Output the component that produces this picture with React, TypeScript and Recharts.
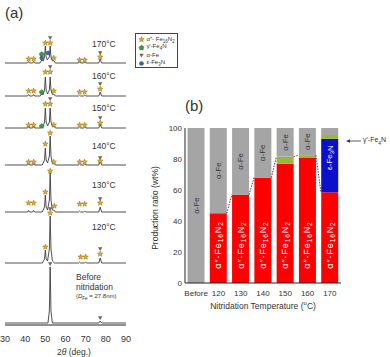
import React from "react";
import { Bar, BarChart, ComposedChart, Line, Scatter, XAxis, YAxis } from "recharts";

const FONT = '"Liberation Sans", Arial, sans-serif';

// ---- (a) XRD patterns: [2θ, intensity above the trace's own baseline] ----
const sampleLabels = ["170°C", "160°C", "150°C", "140°C", "130°C", "120°C"];
const baselineOffsets = [262, 229, 197, 160, 113, 62, 2];
const twoThetaTicks = [30, 40, 50, 60, 70, 80, 90];

const pattern170 = [[30,0],[41.2,0],[41.7,1.5],[42.2,0],[43.7,0],[44.2,1.5],[44.7,0],[47.4,0],[48.2,3],[49.0,2],[49.6,6],[50.0,17],[50.4,6],[51.0,3],[51.6,5],[52.0,6],[52.4,17],[52.8,6],[53.5,2],[54.2,2.5],[55.0,0],[66.5,0],[67.0,1.2],[67.5,0],[69.0,0],[69.5,1.2],[70.0,0],[76.5,0],[77.2,4],[77.9,0],[90,0]];
const pattern160 = [[30,0],[41.2,0],[41.7,1.5],[42.2,0],[43.7,0],[44.2,1.5],[44.7,0],[47.5,0],[48.2,2],[48.9,1.5],[49.6,6],[50.0,19],[50.4,6],[51.1,2],[52.0,6],[52.4,19],[52.8,6],[53.5,1.5],[54.2,2],[55.0,0],[66.5,0],[67.0,1],[67.5,0],[69.0,0],[69.5,1],[70.0,0],[76.5,0],[77.2,4],[77.9,0],[90,0]];
const pattern150 = [[30,0],[41.2,0],[41.7,1.5],[42.2,0],[43.7,0],[44.2,1.5],[44.7,0],[47.5,0],[48.2,1.5],[48.9,1.5],[49.6,6],[50.0,20],[50.4,6],[51.1,2],[52.0,6],[52.4,20],[52.8,6],[53.5,1.5],[54.2,2],[55.0,0],[66.5,0],[67.0,1],[67.5,0],[69.0,0],[69.5,1],[70.0,0],[76.5,0],[77.2,4],[77.9,0],[90,0]];
const pattern140 = [[30,0],[41.2,0],[41.7,1.2],[42.2,0],[43.7,0],[44.2,1.2],[44.7,0],[48.5,0],[49.6,5],[50.0,17],[50.4,5],[51.1,2],[52.0,9],[52.4,29],[52.8,9],[53.5,1.5],[54.2,2],[55.0,0],[66.5,0],[67.0,1],[67.5,0],[69.0,0],[69.5,1],[70.0,0],[76.5,0],[77.2,4],[77.9,0],[90,0]];
const pattern130 = [[30,0],[41.2,0],[41.7,1.5],[42.2,0],[43.7,0],[44.2,1.5],[44.7,0],[48.5,0],[49.6,5],[50.0,17],[50.4,5],[51.1,2],[52.0,12],[52.4,39],[52.8,12],[53.5,2],[54.2,2],[55.0,0],[66.5,0],[67.0,1],[67.5,0],[69.0,0],[69.5,1],[70.0,0],[76.5,0],[77.2,5],[77.9,0],[90,0]];
const pattern120 = [[30,0],[48.5,0],[49.6,4],[50.0,13],[50.4,4],[51.1,2],[52.0,14],[52.4,47],[52.8,14],[53.5,2],[54.5,0],[66.5,0],[67.0,1],[67.5,0],[69.5,0],[70.0,1],[70.5,0],[76.5,0],[77.2,5],[77.9,0],[90,0]];
const patternBefore = [[30,0],[51.3,0],[52.0,12],[52.4,56],[52.8,12],[53.5,0],[76.5,0],[77.2,2],[77.9,0],[90,0]];
const patterns = [pattern170, pattern160, pattern150, pattern140, pattern130, pattern120, patternBefore];

// peak markers, [2θ, height above baseline], one list per trace
const starMarks = [
  [[41.7,4],[44.2,4],[50.0,20],[52.4,20],[54.2,5],[67.0,3],[69.5,3],[77.2,6]],
  [[41.7,5],[44.2,5],[50.0,24],[52.4,24],[54.2,5],[67.0,4],[69.5,4],[77.2,7]],
  [[41.7,3],[44.2,3],[50.0,24],[52.4,24],[54.2,3],[67.0,3],[69.5,3],[77.2,5]],
  [[41.7,3],[44.2,3],[50.0,21],[52.4,32],[54.2,3],[67.0,3],[69.5,3],[77.2,4]],
  [[41.7,9],[44.2,9],[50.0,20],[52.4,41],[54.5,6],[67.0,8],[69.5,8],[77.2,9]],
  [[50.0,16],[52.4,50],[67.5,6],[70.0,6],[77.2,9]],
  [],
];
const alphaFeMarks = [
  [[52.4,25],[77.2,10]],
  [[52.4,29],[77.2,12]],
  [[52.4,29],[77.2,10]],
  [[77.2,7]],
  [[77.2,13]],
  [[52.4,54],[77.2,14]],
  [[52.4,59],[77.2,5]],
];
const gammaMarks = [[[48.2,9]], [[48.2,4]], [[48.2,2]], [], [], [], []];
const epsilonMarks = [[[48.2,5],[51.4,10]], [], [], [], [], [], []];

// ---- (b) production ratio (wt%) ----
const categories = ["Before", "120", "130", "140", "150", "160", "170"];
const alphaDoublePrime = [0, 45, 57, 68, 77, 81, 58.5];
const epsilonFe3N = [0, 0, 0, 0, 0, 0, 34.5];
const gammaFe4N = [0, 0, 0, 0, 4.5, 1.5, 2.5];
const alphaFe = [100, 55, 43, 32, 18.5, 17.5, 4.5];
const nitrideLevel = [0, 45, 57, 68, 81.5, 82.5, 58.5];
const ratioTicks = [0, 20, 40, 60, 80, 100];

const BAR_GAP = 2.5;

const toPoints = (list: number[][], i: number) =>
  list.map(([x, h]) => ({ x, y: baselineOffsets[i] + h }));

const patternSeries = patterns.map((p, i) => toPoints(p, i));
const starData = starMarks.flatMap((m, i) => toPoints(m, i));
const alphaFeData = alphaFeMarks.flatMap((m, i) => toPoints(m, i));
const gammaData = gammaMarks.flatMap((m, i) => toPoints(m, i));
const epsilonData = epsilonMarks.flatMap((m, i) => toPoints(m, i));

const ratioRows = categories.map((name, i) => ({
  name,
  a2: alphaDoublePrime[i],
  eps: epsilonFe3N[i],
  gam: gammaFe4N[i],
  fe: alphaFe[i],
}));

const StarMark = ({ cx, cy }: any) => {
  const pts: string[] = [];
  for (let k = 0; k < 10; k++) {
    const r = k % 2 === 0 ? 2.9 : 1.3;
    const a = -Math.PI / 2 + (k * Math.PI) / 5;
    pts.push(`${cx + r * Math.cos(a)},${cy + r * Math.sin(a)}`);
  }
  return <polygon points={pts.join(" ")} fill="#e3a92a" stroke="#7b5a12" strokeWidth={0.4} />;
};

const TriangleMark = ({ cx, cy }: any) => (
  <polygon points={`${cx - 2.2},${cy - 1.8} ${cx + 2.2},${cy - 1.8} ${cx},${cy + 2}`} fill="#666" />
);

const GreenMark = ({ cx, cy }: any) => (
  <polygon points={`${cx},${cy - 2.6} ${cx + 2.5},${cy - 0.6} ${cx + 1.6},${cy + 2.2} ${cx - 1.6},${cy + 2.2} ${cx - 2.5},${cy - 0.6}`} fill="#3f9a3a" stroke="#1f5f1c" strokeWidth={0.3} />
);

const BlueMark = ({ cx, cy }: any) => <circle cx={cx} cy={cy} r={2.1} fill="#3a64a8" stroke="#1d3764" strokeWidth={0.3} />;

const VText = ({ cx, cy, fill, size = 8, spacing = 0, children }: any) => (
  <text
    x={cx}
    y={cy}
    transform={`rotate(-90 ${cx} ${cy})`}
    textAnchor="middle"
    dominantBaseline="central"
    fontSize={size}
    letterSpacing={spacing}
    fill={fill}
    fontFamily={FONT}
  >
    {children}
  </text>
);

const rowIndex = (props: any) =>
  typeof props.index === "number" ? props.index : categories.indexOf(props.payload?.name);

const RedSegment = (props: any) => {
  const { x, y, width, height, fill } = props;
  const i = rowIndex(props);
  const v = alphaDoublePrime[i];
  if (!v || height <= 0) return null;
  const ppu = height / v;
  const cx = x + width / 2;
  const cy = y + height - 24.5 * ppu;
  return (
    <g>
      <rect x={x} y={y} width={width} height={height} fill={fill} />
      <VText cx={cx} cy={cy} fill="#fff" size={9} spacing={0.9}>
        α″-Fe<tspan dy={2} fontSize={6.5}>16</tspan>
        <tspan dy={-2}>N</tspan>
        <tspan dy={2} fontSize={6.5}>2</tspan>
      </VText>
    </g>
  );
};

const BlueSegment = (props: any) => {
  const { x, y, width, height, fill } = props;
  const i = rowIndex(props);
  if (!epsilonFe3N[i] || height <= 0) return null;
  const cx = x + width / 2;
  const cy = y + height / 2 - 8;
  return (
    <g>
      <rect x={x} y={y} width={width} height={height} fill={fill} />
      <VText cx={cx} cy={cy} fill="#fff" size={8}>
        ε-Fe<tspan dy={2} fontSize={6}>3</tspan>
        <tspan dy={-2}>N</tspan>
      </VText>
    </g>
  );
};

const GreenSegment = (props: any) => {
  const { x, y, width, height, fill } = props;
  if (height <= 0) return null;
  return <rect x={x} y={y} width={width} height={height} fill={fill} />;
};

// grey top segment: also draws the dashed link to the next bar
const GreySegment = (props: any) => {
  const { x, y, width, height, fill } = props;
  const i = rowIndex(props);
  const v = alphaFe[i];
  if (!v || height <= 0) return null;
  const ppu = height / v;
  const base = y + 100 * ppu;
  const showLabel = i < categories.length - 1;
  const hasLink = i >= 1 && i < categories.length - 1;
  return (
    <g>
      <rect x={x} y={y} width={width} height={height} fill={fill} />
      {showLabel && (
        <VText cx={x + width / 2} cy={y + height / 2} fill="#333" size={8}>
          α-Fe
        </VText>
      )}
      {hasLink && (
        <line
          x1={x + width}
          y1={base - nitrideLevel[i] * ppu}
          x2={x + width + 2 * BAR_GAP}
          y2={base - nitrideLevel[i + 1] * ppu}
          stroke="#444"
          strokeWidth={1}
          strokeDasharray="1.5 1.2"
        />
      )}
    </g>
  );
};

const abs = (left: number, cy: number, size: number, extra: React.CSSProperties = {}): React.CSSProperties => ({
  position: "absolute",
  left,
  top: cy,
  transform: "translateY(-50%)",
  fontSize: size,
  lineHeight: 1,
  whiteSpace: "nowrap",
  ...extra,
});

const sampleLabelY = [44, 76, 108, 146, 185, 227];

const legendRows = [
  { mark: "star", label: <>α″- Fe<sub style={{ fontSize: 4.5 }}>16</sub>N<sub style={{ fontSize: 4.5 }}>2</sub></> },
  { mark: "green", label: <>γ′-Fe<sub style={{ fontSize: 4.5 }}>4</sub>N</> },
  { mark: "tri", label: <>α-Fe</> },
  { mark: "blue", label: <>ε-Fe<sub style={{ fontSize: 4.5 }}>3</sub>N</> },
];

const LegendSymbol = ({ mark }: { mark: string }) => (
  <svg width={7} height={7} style={{ display: "block" }}>
    {mark === "star" && <StarMark cx={3.5} cy={3.5} />}
    {mark === "green" && <GreenMark cx={3.5} cy={3.7} />}
    {mark === "tri" && <TriangleMark cx={3.5} cy={3.5} />}
    {mark === "blue" && <BlueMark cx={3.5} cy={3.5} />}
  </svg>
);

export default function App() {
  const frame = { stroke: "#222", strokeWidth: 1 };
  return (
    <div style={{ position: "absolute", left: 0, top: 0, width: 390, height: 357, background: "#fff", fontFamily: FONT, color: "#333", overflow: "hidden" }}>
      {/* (a) XRD */}
      <div style={{ position: "absolute", left: 0, top: 0 }}>
        <ComposedChart width={135} height={357} margin={{ top: 32, right: 9, bottom: 0, left: 5 }}>
          <XAxis
            dataKey="x"
            type="number"
            domain={[30, 90]}
            ticks={twoThetaTicks}
            height={32}
            tickLine={false}
            tickSize={6}
            tickMargin={5}
            tick={{ fontSize: 9, fill: "#333", fontFamily: FONT }}
            axisLine={frame}
            allowDataOverflow
          />
          <XAxis
            xAxisId="top"
            orientation="top"
            dataKey="x"
            type="number"
            domain={[30, 90]}
            ticks={[40, 50, 60, 70, 80]}
            height={0}
            mirror
            tick={false}
            tickSize={2}
            tickLine={frame}
            axisLine={frame}
          />
          <YAxis dataKey="y" type="number" domain={[0, 293]} width={0} tick={false} tickLine={false} axisLine={frame} allowDataOverflow />
          <YAxis yAxisId="right" orientation="right" type="number" domain={[0, 293]} width={0} tick={false} tickLine={false} axisLine={frame} />
          {patternSeries.map((d, i) => (
            <Line
              key={i}
              data={d}
              dataKey="y"
              type="linear"
              stroke="#3c3c3c"
              strokeWidth={0.9}
              dot={false}
              activeDot={false}
              isAnimationActive={false}
            />
          ))}
          <Scatter data={alphaFeData} shape={TriangleMark} isAnimationActive={false} />
          <Scatter data={epsilonData} shape={BlueMark} isAnimationActive={false} />
          <Scatter data={gammaData} shape={GreenMark} isAnimationActive={false} />
          <Scatter data={starData} shape={StarMark} isAnimationActive={false} />
        </ComposedChart>
      </div>

      {/* (b) production ratio */}
      <div style={{ position: "absolute", left: 140, top: 90 }}>
        <BarChart width={250} height={230} data={ratioRows} margin={{ top: 38, right: 49, bottom: 0, left: 15 }} barCategoryGap={BAR_GAP}>
          <XAxis
            dataKey="name"
            height={37}
            interval={0}
            tickLine={false}
            tickSize={4}
            tickMargin={3}
            tick={{ fontSize: 8, fill: "#333", fontFamily: FONT }}
            axisLine={frame}
          />
          <XAxis xAxisId="top" dataKey="name" orientation="top" height={0} tick={false} tickLine={false} axisLine={frame} />
          <YAxis
            type="number"
            domain={[0, 100]}
            ticks={ratioTicks}
            width={30}
            tickLine={false}
            tickSize={0}
            tickMargin={3}
            tick={{ fontSize: 8, fill: "#333", fontFamily: FONT }}
            axisLine={frame}
          />
          <YAxis
            yAxisId="right"
            orientation="right"
            type="number"
            domain={[0, 100]}
            ticks={ratioTicks}
            width={0}
            mirror
            tick={false}
            tickSize={3}
            tickLine={frame}
            axisLine={frame}
          />
          <Bar dataKey="a2" stackId="s" fill="#fe0000" shape={RedSegment} isAnimationActive={false} />
          <Bar dataKey="eps" stackId="s" fill="#0a10cc" shape={BlueSegment} isAnimationActive={false} />
          <Bar dataKey="gam" stackId="s" fill="#97b935" shape={GreenSegment} isAnimationActive={false} />
          <Bar dataKey="fe" stackId="s" fill="#a5a5a5" shape={GreySegment} isAnimationActive={false} />
        </BarChart>
      </div>

      {/* panel (a) annotations */}
      <div style={abs(5, 12, 15)}>(a)</div>
      {sampleLabels.map((t, i) => (
        <div key={t} style={abs(92, sampleLabelY[i], 8.5)}>
          {t}
        </div>
      ))}
      <div style={abs(76, 277, 8.5)}>Before</div>
      <div style={abs(76, 287, 8.5)}>nitridation</div>
      <div style={abs(76, 297, 6)}>
        (<i>D</i>
        <sub style={{ fontSize: 4.5 }}>Fe</sub> = 27.8nm)
      </div>
      <div style={{ position: "absolute", left: 135, top: 33, width: 43, height: 35, border: "1px solid #444", background: "#fff", boxSizing: "border-box", padding: "2px 0 0 2px" }}>
        {legendRows.map((r, i) => (
          <div key={i} style={{ display: "flex", alignItems: "center", height: 7.8, fontSize: 6, lineHeight: 1, whiteSpace: "nowrap" }}>
            <LegendSymbol mark={r.mark} />
            <span style={{ marginLeft: 1.5 }}>{r.label}</span>
          </div>
        ))}
      </div>
      <div style={abs(57, 352, 8.5)}>
        2<i>θ</i> (deg.)
      </div>

      {/* panel (b) annotations */}
      <div style={abs(185, 105, 15)}>(b)</div>
      <div style={{ position: "absolute", left: 155, top: 208, transform: "translate(-50%, -50%) rotate(-90deg)", fontSize: 8.5, whiteSpace: "nowrap", lineHeight: 1 }}>
        Production ratio (wt%)
      </div>
      <div style={{ position: "absolute", left: 263, top: 305, transform: "translate(-50%, -50%)", fontSize: 8.5, whiteSpace: "nowrap", lineHeight: 1 }}>
        Nitridation Temperature (<sup style={{ fontSize: 6 }}>o</sup>C)
      </div>
      <svg style={{ position: "absolute", left: 346, top: 136 }} width={16} height={10}>
        <line x1={3} y1={5} x2={15} y2={5} stroke="#333" strokeWidth={0.8} />
        <polygon points="0,5 4,3.2 4,6.8" fill="#333" />
      </svg>
      <div style={abs(363, 141, 7)}>
        γ′-Fe<sub style={{ fontSize: 5 }}>4</sub>N
      </div>
    </div>
  );
}
